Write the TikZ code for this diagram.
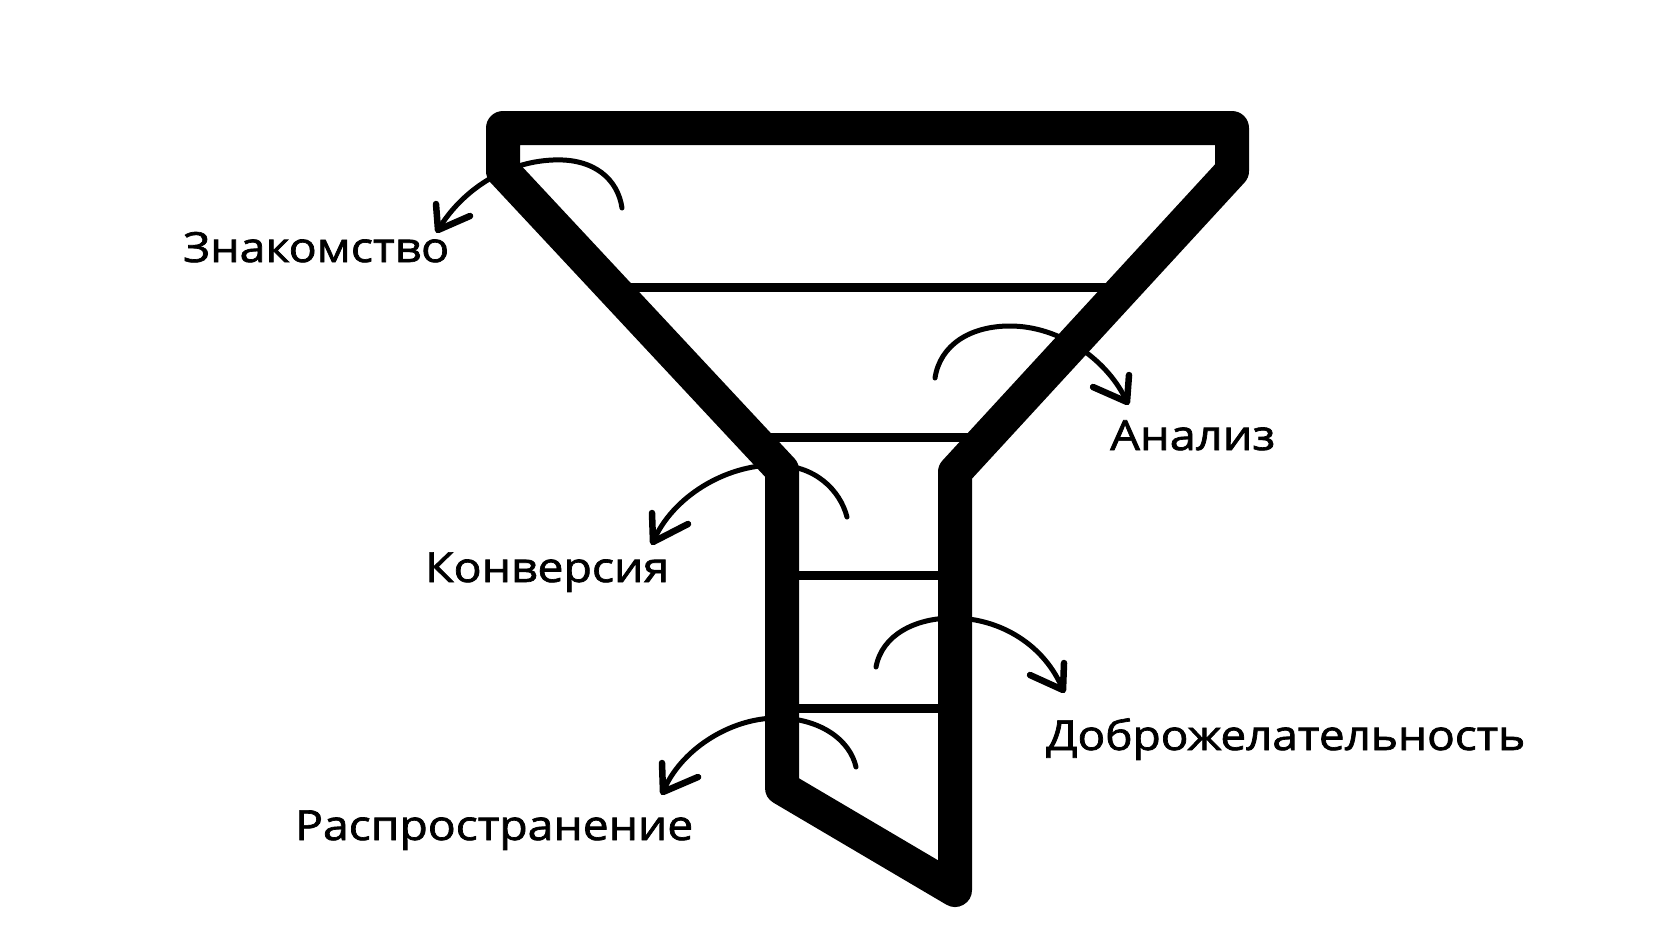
\documentclass[tikz,border=0pt]{standalone}
\usepackage{fontspec}
\usepackage{graphicx}
\setmainfont{Open Sans}[BoldFont={Open Sans}, BoldFeatures={FakeBold=1.6}]
\tikzset{
  funnel/.style={line width=34pt, line join=round, line cap=round},
  divider/.style={line width=9pt},
  curvearrow/.style={line width=5pt, line cap=round},
  arrowhead/.style={line width=6.5pt, line cap=round, line join=round},
  label/.style={anchor=base west, inner sep=0pt, font=\fontsize{41.5}{48}\selectfont\bfseries}
}
\newcommand\fitw[2]{\resizebox{#1}{\height}{#2}}
\begin{document}
\begin{tikzpicture}[x=1pt, y=-1pt]
\useasboundingbox (0,0) rectangle (1680,945);
\fill[white] (0,0) rectangle (1680,945);

% funnel corner coordinates
\coordinate (tl) at (503,171);
\coordinate (tlu) at (503,128);
\coordinate (tru) at (1232,128);
\coordinate (tr) at (1232,171);
\coordinate (nr) at (955,472);
\coordinate (br) at (955,890);
\coordinate (bl) at (782,788);
\coordinate (nl) at (782,470);

% dividers
\coordinate (d1a) at (611,287); \coordinate (d1b) at (1125,287);
\coordinate (d2a) at (751,437); \coordinate (d2b) at (987,437);
\coordinate (d3a) at (782,575); \coordinate (d3b) at (955,575);
\coordinate (d4a) at (782,708); \coordinate (d4b) at (955,708);
\draw[divider] (d1a) -- (d1b);
\draw[divider] (d2a) -- (d2b);
\draw[divider] (d3a) -- (d3b);
\draw[divider] (d4a) -- (d4b);

% curved arrows
% 1 Znakomstvo
\coordinate (s1) at (622,208); \coordinate (a1) at (553,160); \coordinate (e1) at (438,230);
\draw[curvearrow] (s1) .. controls (618,180) and (595,158) .. (a1) .. controls (505,162) and (462,190) .. (e1);
\coordinate (h1a) at (436,204); \coordinate (h1b) at (470,216);
\draw[arrowhead] (h1a) -- (e1) -- (h1b);
% 2 Analiz
\coordinate (s2) at (935,378); \coordinate (a2) at (1010,326); \coordinate (e2) at (1127,402);
\draw[curvearrow] (s2) .. controls (940,345) and (970,326) .. (a2) .. controls (1060,326) and (1108,360) .. (e2);
\coordinate (h2a) at (1129,375); \coordinate (h2b) at (1093,387);
\draw[arrowhead] (h2a) -- (e2) -- (h2b);
% 3 Konversiya
\coordinate (s3) at (847,517); \coordinate (a3) at (775,465); \coordinate (e3) at (653,542);
\draw[curvearrow] (s3) .. controls (840,490) and (815,465) .. (a3) .. controls (725,465) and (672,497) .. (e3);
\coordinate (h3a) at (652,513); \coordinate (h3b) at (688,524);
\draw[arrowhead] (h3a) -- (e3) -- (h3b);
% 4 Dobrozhelatelnost
\coordinate (s4) at (876,667); \coordinate (a4) at (953,618); \coordinate (e4) at (1063,690);
\draw[curvearrow] (s4) .. controls (882,635) and (915,618) .. (a4) .. controls (1000,618) and (1045,645) .. (e4);
\coordinate (h4a) at (1064,663); \coordinate (h4b) at (1030,675);
\draw[arrowhead] (h4a) -- (e4) -- (h4b);
% 5 Rasprostranenie
\coordinate (s5) at (856,767); \coordinate (a5) at (777,718); \coordinate (e5) at (663,792);
\draw[curvearrow] (s5) .. controls (850,740) and (820,718) .. (a5) .. controls (730,718) and (680,750) .. (e5);
\coordinate (h5a) at (662,763); \coordinate (h5b) at (698,777);
\draw[arrowhead] (h5a) -- (e5) -- (h5b);

% funnel outline
\draw[funnel] (tl) -- (tlu) -- (tru) -- (tr) -- (nr) -- (br) -- (bl) -- (nl) -- cycle;

% labels
\node[label] (l1) at (183,262) {\fitw{266pt}{Знакомство}};
\node[label] (l2) at (1110,450) {\fitw{165pt}{Анализ}};
\node[label] (l3) at (425,582) {\fitw{244pt}{Конверсия}};
\node[label] (l4) at (1046,750) {\fitw{479pt}{Доброжелательность}};
\node[label] (l5) at (295,840) {\fitw{398pt}{Распространение}};
\end{tikzpicture}
\end{document}
